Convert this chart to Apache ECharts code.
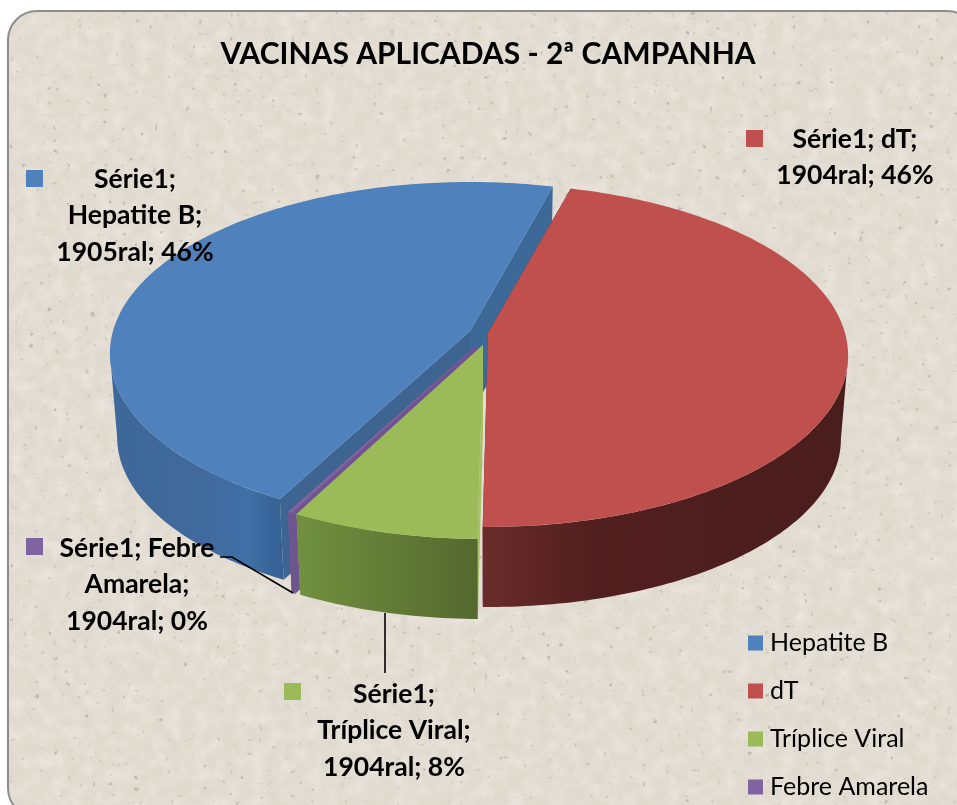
<!DOCTYPE html>
<html><head><meta charset="utf-8">
<style>
html,body{margin:0;padding:0;background:#fff;width:957px;height:805px;overflow:hidden}
#panel{position:absolute;left:7px;top:10px;width:970px;height:808px;box-sizing:border-box;border:2px solid #8c8c8c;border-radius:30px;overflow:hidden;background:#e0d9ce}
#panel svg{position:absolute;left:0;top:0}
#chart{position:absolute;left:0;top:0;width:957px;height:805px}
</style>
<script src="https://cdn.jsdelivr.net/npm/echarts@6/dist/echarts.min.js"></script>
</head><body>
<div id="panel"><svg width="970" height="808" xmlns="http://www.w3.org/2000/svg">
<defs>
<filter id="soft" x="0" y="0" width="100%" height="100%"><feTurbulence type="fractalNoise" baseFrequency="0.13" numOctaves="3" seed="11"/><feColorMatrix values="0 0 0 0 .79  0 0 0 0 .75  0 0 0 0 .69  0 0 0 1.1 -.42"/><feGaussianBlur stdDeviation="0.8"/></filter>
<filter id="light" x="0" y="0" width="100%" height="100%"><feTurbulence type="fractalNoise" baseFrequency="0.07" numOctaves="3" seed="4"/><feColorMatrix values="0 0 0 0 .92  0 0 0 0 .89  0 0 0 0 .86  0 0 0 1.1 -.45"/><feGaussianBlur stdDeviation="1.2"/></filter>
<filter id="speck" x="0" y="0" width="100%" height="100%"><feTurbulence type="fractalNoise" baseFrequency="0.16" numOctaves="2" seed="23"/><feColorMatrix values="0 0 0 0 .5  0 0 0 0 .47  0 0 0 0 .43  0 0 0 6 -4.3"/><feGaussianBlur stdDeviation="0.7"/></filter>
</defs>
<rect width="970" height="808" filter="url(#light)"/>
<rect width="970" height="808" filter="url(#soft)"/>
<rect width="970" height="808" filter="url(#speck)"/>
</svg></div>
<div id="chart"></div>
<script>
const chartTitle = 'VACINAS APLICADAS - 2ª CAMPANHA';
const categories = ['Hepatite B', 'dT', 'Tríplice Viral', 'Febre Amarela'];
const shares = [46.4, 46.0, 7.43, 0.17];
const seriesName = 'Série1';
const shownValues = ['1905ral', '1904ral', '1904ral', '1904ral'];
const shownPercents = ['46%', '46%', '8%', '0%'];

// layout and styling of the tilted pie
const firstAngle = 208.1, R = 357, A = 168.5, K = 0.131, DEPTH = 84, BOTTOM_SCALE = 0.98;
const apexes = [[470, 331], [488, 333], [483, 345], [478, 344]];
const drawOrder = [1, 4, 3, 2];
const topColors = ['#4f81bd', '#c0504d', '#9bbb59', '#8064a2'];
const cutColors = [['#3e6491', '#3c6998'], ['#6a2c2b', '#6a2c2b'], ['#a3c062', '#a3c062'], ['#6f5590', '#6f5590']];
const wallStops = [
  [[0, '#3e689a'], [0.5, '#41699c'], [0.8, '#3f70a6'], [1, '#356093']],
  [[0, '#692c2b'], [0.3, '#521f1f'], [1, '#4a1d1d']],
  [[0, '#71903f'], [1, '#55682f']],
  [[0, '#6f5590'], [1, '#6f5590']]
];
const labelBoxes = [
  {lines: [seriesName + ';', categories[0] + ';', shownValues[0] + '; ' + shownPercents[0]], cx: 135, y: 179, key: [26, 170]},
  {lines: [seriesName + '; ' + categories[1] + ';', shownValues[1] + '; ' + shownPercents[1]], cx: 855, y: 139, key: [746, 130]},
  {lines: [seriesName + ';', categories[2] + ';', shownValues[2] + '; ' + shownPercents[2]], cx: 394, y: 694, key: [284, 683]},
  {lines: [seriesName + '; Febre', 'Amarela;', shownValues[3] + '; ' + shownPercents[3]], cx: 137, y: 548, key: [26, 538]}
];
const leaders = [[[220, 557], [232, 557], [293, 593]], [[385, 613], [385, 673]]];

const total = shares.reduce((a, b) => a + b, 0);
const spans = [];
(function () {
  let a = firstAngle;
  shares.forEach(v => { const s = v / total * 360; spans.push([a, a + s]); a += s; });
})();

function rimTop(i, t) {
  const r = t * Math.PI / 180, u = Math.sin(r), v = -Math.cos(r), w = 1 - K * v;
  return [apexes[i][0] + R * u / w, apexes[i][1] + A * v / w];
}
function rimBottom(i, t) {
  const r = t * Math.PI / 180, u = Math.sin(r), v = -Math.cos(r), w = 1 - K * v;
  return [apexes[i][0] + BOTTOM_SCALE * R * u / w, apexes[i][1] + BOTTOM_SCALE * A * v / w + DEPTH];
}
function arc(fn, i, a, b) {
  const pts = [], n = Math.max(1, Math.ceil(Math.abs(b - a)));
  for (let j = 0; j <= n; j++) pts.push(fn(i, a + (b - a) * j / n));
  return pts;
}
function poly(points, fill, z2) {
  return {type: 'polygon', z2, shape: {points}, style: {fill, stroke: null}, silent: true};
}
const tangent = Math.acos(-K) * 180 / Math.PI;
function visibleRanges(a, b) {
  const out = [];
  for (const off of [0, 360]) {
    const lo = Math.max(a, tangent + off), hi = Math.min(b, 360 - tangent + off);
    if (hi > lo) out.push([lo, hi]);
  }
  return out;
}
function renderSlice(i) {
  return function () {
    const [a, b] = spans[i], apex = apexes[i], kids = [];
    const apexLow = [apex[0], apex[1] + DEPTH];
    kids.push(poly([apex, rimTop(i, a), rimBottom(i, a), apexLow], cutColors[i][0], 1));
    kids.push(poly([apex, rimTop(i, b), rimBottom(i, b), apexLow], cutColors[i][1], 1));
    visibleRanges(a, b).forEach(([lo, hi]) => {
      const top = arc(rimTop, i, lo, hi), low = arc(rimBottom, i, lo, hi).reverse();
      const pts = top.concat(low), xs = pts.map(p => p[0]);
      const grad = new echarts.graphic.LinearGradient(Math.min(...xs), 0, Math.max(...xs), 0,
        wallStops[i].map(s => ({offset: s[0], color: s[1]})), true);
      kids.push(poly(pts, grad, 2));
    });
    kids.push(poly([apex].concat(arc(rimTop, i, a, b)), topColors[i], 3));
    return {type: 'group', children: kids};
  };
}

const graphics = [];
leaders.forEach(pts => graphics.push({type: 'polyline', z: 20, shape: {points: pts},
  style: {stroke: '#000', lineWidth: 1.6, fill: null}}));
labelBoxes.forEach((b, i) => {
  graphics.push({type: 'rect', z: 21, shape: {x: b.key[0], y: b.key[1], width: 17, height: 17}, style: {fill: topColors[i]}});
  b.lines.forEach((t, j) => graphics.push({type: 'text', z: 22, x: b.cx, y: b.y + j * 36.5,
    style: {text: t, fill: '#000', font: 'bold 26.5px Lato', textAlign: 'center', textVerticalAlign: 'middle'}}));
});

const chart = echarts.init(document.getElementById('chart'), null, {renderer: 'canvas'});
chart.setOption({
  animation: false,
  backgroundColor: 'transparent',
  title: {text: chartTitle, left: 488, top: 39, padding: 0, textAlign: 'center',
    textStyle: {fontFamily: 'Lato', fontSize: 30, fontWeight: 'bold', color: '#000'}},
  legend: {orient: 'vertical', left: 748, top: 630, padding: 0, icon: 'rect', itemWidth: 15, itemHeight: 15, itemGap: 22,
    data: categories, selectedMode: false,
    textStyle: {fontFamily: 'Lato', fontSize: 25, lineHeight: 26, height: 26, color: '#000', padding: [0, 0, 0, 2]}},
  graphic: graphics,
  series: categories.map((name, i) => ({
    type: 'custom', name, coordinateSystem: 'none', z: drawOrder[i] + 2,
    itemStyle: {color: topColors[i]},
    data: [[shares[i]]],
    renderItem: renderSlice(i)
  }))
});
</script>
</body></html>
